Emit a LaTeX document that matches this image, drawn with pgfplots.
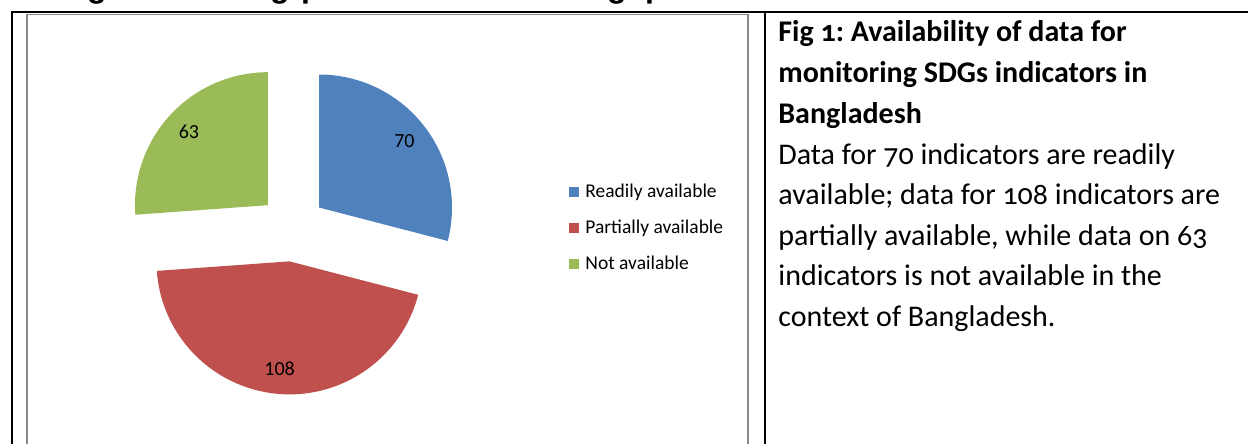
\documentclass[border=0pt]{standalone}
\usepackage{fontspec}
\setmainfont{Carlito}[Numbers=OldStyle]
\newfontfamily\calibri{Carlito}
\newfontfamily\arial{Liberation Sans}
\usepackage{pgfplots}
\usepackage{pgfplotstable}
\pgfplotsset{compat=1.18}
\usetikzlibrary{calc}
\definecolor{pieblue}{HTML}{4F81BD}
\definecolor{piered}{HTML}{C0504D}
\definecolor{piegreen}{HTML}{9BBB59}
\definecolor{framegray}{HTML}{898989}
\frenchspacing

\pgfplotstableread{
cat value
Readily 70
Partially 108
Not 63
}\piedata
\pgfplotstablegetelem{0}{value}\of\piedata \let\vA\pgfplotsretval
\pgfplotstablegetelem{1}{value}\of\piedata \let\vB\pgfplotsretval
\pgfplotstablegetelem{2}{value}\of\piedata \let\vC\pgfplotsretval
\pgfmathsetmacro\tot{\vA+\vB+\vC}
\pgfmathsetmacro\sA{90}
\pgfmathsetmacro\eA{90-360*(\vA/\tot)}
\pgfmathsetmacro\eB{\eA-360*(\vB/\tot)}
\pgfmathsetmacro\eC{\eB-360*(\vC/\tot)}
\pgfmathsetmacro\mA{(\sA+\eA)/2}
\pgfmathsetmacro\mB{(\eA+\eB)/2}
\pgfmathsetmacro\mC{(\eB+\eC)/2}
\def\pr{66.5pt}
\def\pd{16.75pt}
\def\pl{54pt}

\begin{document}
\begin{tikzpicture}
\begin{axis}[
  width=624pt, height=222pt, scale only axis,
  xmin=0, xmax=1248, ymin=0, ymax=444, y dir=reverse,
  hide axis, clip=false]
% table lines
\draw[line width=1pt] (axis cs:12,444) -- (axis cs:12,12) -- (axis cs:1248,12);
\draw[line width=1pt] (axis cs:765,12) -- (axis cs:765,444);
\draw[framegray, line width=0.8pt] (axis cs:27,444) -- (axis cs:27,14.5) -- (axis cs:748,14.5) -- (axis cs:748,444);
% cut-off heading fragments (heading above lies outside the picture)
\node[font=\arial\bfseries\fontsize{16}{18}\selectfont, anchor=base] at (axis cs:97,-2) {g};
\node[font=\arial\bfseries\fontsize{16}{18}\selectfont, anchor=base] at (axis cs:280,-2) {g};
\node[font=\arial\bfseries\fontsize{16}{18}\selectfont, anchor=base] at (axis cs:311,-2) {p};
\node[font=\arial\bfseries\fontsize{16}{18}\selectfont, anchor=base] at (axis cs:617,-2) {g};
\node[font=\arial\bfseries\fontsize{16}{18}\selectfont, anchor=base] at (axis cs:655,-2) {p};
% pie
\coordinate (C) at (axis cs:292.5,228);
\fill[pieblue] ($(C)+(\mA:\pd)$) -- ++(\sA:\pr) arc[start angle=\sA, end angle=\eA, radius=\pr] -- cycle;
\fill[piered] ($(C)+(\mB:\pd)$) -- ++(\eA:\pr) arc[start angle=\eA, end angle=\eB, radius=\pr] -- cycle;
\fill[piegreen] ($(C)+(\mC:\pd)$) -- ++(\eB:\pr) arc[start angle=\eB, end angle=\eC, radius=\pr] -- cycle;
\node[font=\calibri\fontsize{10}{12}\selectfont] at ($(C)+(\mA:\pd)+(\mA:\pl)$) {\vA};
\node[font=\calibri\fontsize{10}{12}\selectfont] at ($(C)+(\mB:\pd)+(\mB:\pl)$) {\vB};
\node[font=\calibri\fontsize{10}{12}\selectfont] at ($(C)+(\mC:\pd)+(\mC:\pl)$) {\vC};
% legend
\fill[pieblue] (axis cs:569,187) rectangle (axis cs:579,197);
\fill[piered] (axis cs:569,223) rectangle (axis cs:579,233);
\fill[piegreen] (axis cs:569,259) rectangle (axis cs:579,269);
\node[anchor=base west, inner sep=0pt, font=\calibri\fontsize{9.75}{12}\selectfont] at (axis cs:585,197.5) {Readily available};
\node[anchor=base west, inner sep=0pt, font=\calibri\fontsize{9.75}{12}\selectfont] at (axis cs:585,233.5) {Partially available};
\node[anchor=base west, inner sep=0pt, font=\calibri\fontsize{9.75}{12}\selectfont] at (axis cs:585,269.5) {Not available};
% right text
\node[anchor=base west, inner sep=0pt, font=\bfseries\fontsize{15}{18}\selectfont] at (axis cs:778,42) {Fig 1: Availability of data for};
\node[anchor=base west, inner sep=0pt, font=\bfseries\fontsize{15}{18}\selectfont] at (axis cs:778,83) {monitoring SDGs indicators in};
\node[anchor=base west, inner sep=0pt, font=\bfseries\fontsize{15}{18}\selectfont] at (axis cs:778,123.5) {Bangladesh};
\node[anchor=base west, inner sep=0pt, font=\fontsize{15}{18}\selectfont] at (axis cs:778,164) {Data for 70 indicators are readily};
\node[anchor=base west, inner sep=0pt, font=\fontsize{15}{18}\selectfont] at (axis cs:778,204.5) {available; data for 108 indicators are};
\node[anchor=base west, inner sep=0pt, font=\fontsize{15}{18}\selectfont] at (axis cs:778,245) {partially available, while data on 63};
\node[anchor=base west, inner sep=0pt, font=\fontsize{15}{18}\selectfont] at (axis cs:778,285.5) {indicators is not available in the};
\node[anchor=base west, inner sep=0pt, font=\fontsize{15}{18}\selectfont] at (axis cs:778,326) {context of Bangladesh.};
\end{axis}
\pgfresetboundingbox
\path[use as bounding box] (current axis.south west) rectangle (current axis.north east);
\end{tikzpicture}
\end{document}
